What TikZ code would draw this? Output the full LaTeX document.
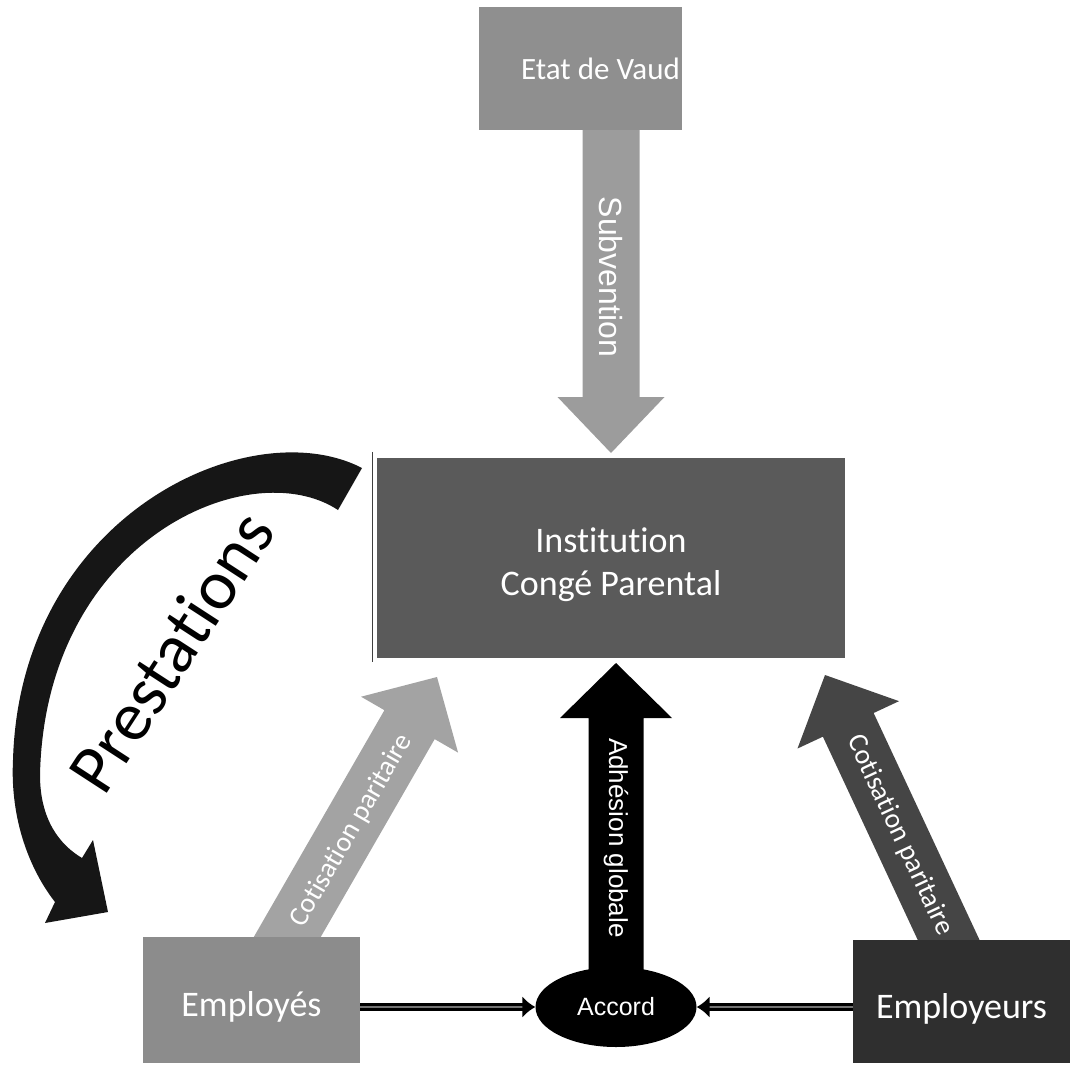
\documentclass[tikz,border=0pt]{standalone}
\usepackage{fontspec}
\setmainfont{Carlito}[Ligatures=NoCommon]
\newfontfamily\arialfont{Liberation Sans}
\usepackage{tikz}
\usetikzlibrary{arrows.meta,calc,backgrounds,shapes.geometric}
\usepackage{xcolor}
\definecolor{etatgray}{HTML}{8F8F8F}
\definecolor{subgray}{HTML}{9C9C9C}
\definecolor{instgray}{HTML}{5A5A5A}
\definecolor{empgray}{HTML}{8C8C8C}
\definecolor{cotlgray}{HTML}{A3A3A3}
\definecolor{emprgray}{HTML}{2F2F2F}
\definecolor{cotrgray}{HTML}{454545}
\definecolor{prestink}{HTML}{161616}
% block arrow: style, start, tip, half shaft, half head, head length
\newcommand{\blockarrow}[6]{%
  \coordinate (hb) at ($(#3)!#6!(#2)$);
  \fill[#1] ($(#2)!#4!90:(#3)$) -- ($(hb)!#4!90:(#3)$) -- ($(hb)!#5!90:(#3)$) -- (#3)
    -- ($(hb)!#5!-90:(#3)$) -- ($(hb)!#4!-90:(#3)$) -- ($(#2)!#4!-90:(#3)$) -- cycle;}
\newcommand{\lowered}[1]{\raisebox{-7pt}[\height][\depth]{#1}}
\tikzset{
  box/.style={inner sep=0pt,align=center,text=white,font=\fontsize{36}{43}\selectfont},
  etatbox/.style={box,fill=etatgray,font=\fontsize{31}{36}\selectfont},
  instbox/.style={box,fill=instgray},
  empbox/.style={box,fill=empgray},
  emprbox/.style={box,fill=emprgray},
  accordnode/.style={ellipse,fill=black,inner sep=0pt,text=white,font=\arialfont\fontsize{25}{30}\selectfont},
  arrlabel/.style={inner sep=0pt,text=white},
  cotlabel/.style={arrlabel,font=\fontsize{28}{32}\selectfont},
  sanslabel/.style={arrlabel,font=\arialfont\fontsize{26}{30}\selectfont},
  link/.style={-{Latex[width=22pt,length=13pt]},line width=3.5pt,draw=black,double=black!55,double distance=1.5pt},
}
\begin{document}
\begin{tikzpicture}[x=1pt,y=-1pt]
\useasboundingbox (0,0) rectangle (1074,1068);

% Boxes
\node[etatbox,minimum width=203pt,minimum height=123pt] (etat) at (580.5,68.5) {\hspace*{40pt}Etat de Vaud};
\node[instbox,minimum width=468pt,minimum height=200pt] (inst) at (611,558) {\lowered{\begin{tabular}{@{}c@{}}Institution\\Congé Parental\end{tabular}}};
\node[empbox,minimum width=217pt,minimum height=126pt] (emp) at (251.5,1000) {\lowered{Employés}};
\node[emprbox,minimum width=217pt,minimum height=123pt] (empr) at (961.5,1001.5) {\lowered{Employeurs}};
\node[accordnode,minimum width=161pt,minimum height=80pt] (accord) at (616,1007) {Accord};
\draw[line width=1.2pt,black!75] ([xshift=-4pt,yshift=6pt]inst.north west) -- ([xshift=-4pt,yshift=-4pt]inst.south west);

% End points of the block arrows
\coordinate (subS) at (611,130);
\coordinate (subT) at (611,453);
\coordinate (adhT) at (616,663);
\coordinate (cotLS) at (274,960);
\coordinate (cotLT) at (437,677);
\coordinate (cotRS) at (958,960);
\coordinate (cotRT) at (825,675);

\begin{scope}[on background layer]
\blockarrow{subgray}{subS}{subT}{28.5pt}{53.5pt}{56pt}
\node[sanslabel,font=\arialfont\fontsize{32}{36}\selectfont,rotate=-90] (sublabel) at ($(subS)!0.55!(hb)$) {Subvention};
\blockarrow{black}{accord.center}{adhT}{27.5pt}{56pt}{55pt}
\node[sanslabel,rotate=-90] (adhlabel) at ($(accord.center)!0.585!(hb)$) {Adhésion globale};
\blockarrow{cotlgray}{cotLS}{cotLT}{29pt}{56pt}{55pt}
\node[cotlabel,rotate=60] (cotllabel) at ($(cotLS)!0.55!(hb)+(3,0)$) {Cotisation paritaire};
\blockarrow{cotrgray}{cotRS}{cotRT}{28pt}{56pt}{55pt}
\node[cotlabel,rotate=-65] (cotrlabel) at ($(cotRS)!0.53!(hb)$) {Cotisation paritaire};
\end{scope}

% Prestations
\fill[prestink] (362,468) .. controls (250,410) and (20,515) .. (13,760)
  .. controls (10,820) and (30,870) .. (55,902) -- (45,923) -- (108,912) -- (93,840) -- (82,858)
  .. controls (60,845) and (40,820) .. (40,775)
  .. controls (45,540) and (250,452) .. (338,510) -- cycle;
\node[inner sep=0pt,rotate=57,font=\fontsize{70}{78}\selectfont] (prest) at (171,652) {Prestations};

% Links to the agreement
\draw[link] (accord.west -| emp.east) -- (accord.west);
\draw[link] (accord.east -| empr.west) -- (accord.east);

\end{tikzpicture}
\end{document}
